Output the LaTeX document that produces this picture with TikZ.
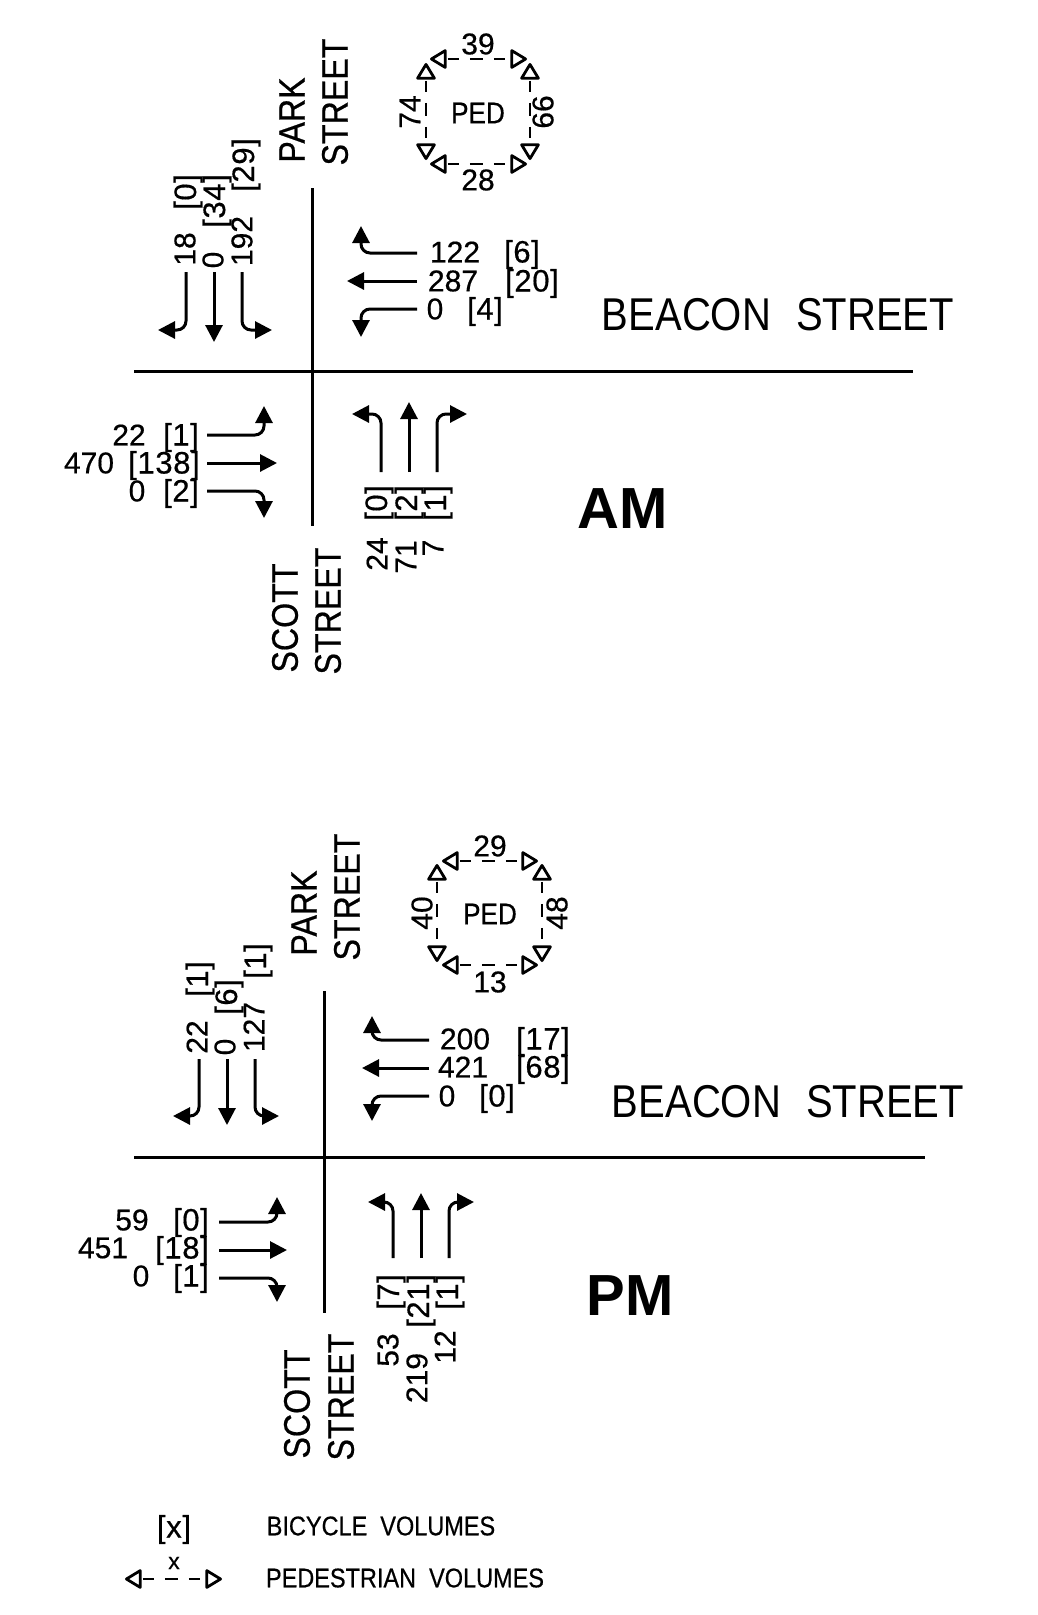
\documentclass[tikz,border=0pt]{standalone}
\usepackage{fontspec}
\setmainfont{Liberation Sans}
\newfontfamily\numfont[FakeBold=0.5]{Liberation Sans}
\newfontfamily\bracketfont[FakeBold=0.5,LetterSpace=2]{Liberation Sans}
\newfontfamily\cadfont[FakeStretch=0.87]{Liberation Sans}
\newfontfamily\cadboldfont[FakeStretch=0.87,FakeBold=0.5]{Liberation Sans}
\usetikzlibrary{arrows.meta}
\tikzset{
    countlabel/.style={inner sep=0pt, font=\fontsize{30}{30}\selectfont\numfont},
    vcountlabel/.style={countlabel, rotate=90},
    bracketlabel/.style={inner sep=0pt, font=\fontsize{31}{31}\selectfont\bracketfont, yshift=-2.5pt},
    vbracketlabel/.style={inner sep=0pt, font=\fontsize{31}{31}\selectfont\bracketfont, rotate=90, yshift=-3pt},
    streetlabel/.style={inner sep=0pt, font=\fontsize{46}{46}\selectfont\cadfont},
    vstreetlabel/.style={inner sep=0pt, font=\fontsize{37}{37}\selectfont\cadboldfont, rotate=90},
    pedlabel/.style={inner sep=0pt, font=\fontsize{30}{30}\selectfont\cadboldfont},
    legendlabel/.style={inner sep=0pt, font=\fontsize{27}{27}\selectfont\cadboldfont},
    peaklabel/.style={inner sep=0pt, font=\fontsize{58}{58}\selectfont\bfseries},
    roadline/.style={line width=3pt},
    flow/.style={line width=3pt, rounded corners=9pt, -{Triangle[length=17pt,width=17pt]}},
    pedflow/.style={line width=2.8pt, dash pattern=on 0pt off 2pt on 11pt off 11pt on 13pt off 11pt on 11pt off 50pt,
        {Triangle[open,round,length=18pt,width=21pt]}-{Triangle[open,round,length=18pt,width=21pt]}}
}
\begin{document}
\begin{tikzpicture}[x=1pt, y=-1pt]
    \useasboundingbox (0,0) rectangle (1038,1615);

    % AM roads
    \coordinate (amwest) at (134, 371);
    \coordinate (ameast) at (913, 371);
    \coordinate (amnorth) at (312, 188);
    \coordinate (amsouth) at (312, 526);
    \draw[roadline] (amwest) -- (ameast);
    \draw[roadline] (amnorth) -- (amsouth);
    \node[vstreetlabel] (ampark) at (292, 120) {PARK};
    \node[vstreetlabel] (amparkst) at (335, 102) {STREET};
    \node[vstreetlabel] (amscott) at (285, 618) {SCOTT};
    \node[vstreetlabel] (amscottst) at (328, 611) {STREET};
    \node[streetlabel] (ambeacon) at (778, 315) {BEACON\ \ \kern3pt STREET};
    \node[peaklabel] (amtitle) at (623, 509) {AM};

    % AM pedestrians
    \node[pedlabel] (amped) at (478, 113) {PED};
    \coordinate (amnw) at (430, 59);
    \coordinate (amne) at (527, 59);
    \coordinate (amsw) at (430, 164);
    \coordinate (amse) at (527, 164);
    \coordinate (amwn) at (426, 63);
    \coordinate (amws) at (426, 160);
    \coordinate (amen) at (530, 63);
    \coordinate (ames) at (530, 160);
    \draw[pedflow] (amnw) -- (amne);
    \draw[pedflow] (amsw) -- (amse);
    \draw[pedflow] (amwn) -- (amws);
    \draw[pedflow] (amen) -- (ames);
    \node[countlabel] (ampedn) at (478, 44) {39};
    \node[countlabel] (ampeds) at (478, 180) {28};
    \node[vcountlabel] (ampedw) at (410, 112) {74};
    \node[vcountlabel] (ampede) at (543, 112) {66};

    % AM westbound
    \node[countlabel] (amwbr) at (455, 252) {122};
    \node[bracketlabel] (amwbrb) at (522, 252) {[6]};
    \node[countlabel] (amwbt) at (453, 281) {287};
    \node[bracketlabel] (amwbtb) at (532, 281) {[20]};
    \node[countlabel] (amwbl) at (435, 309) {0};
    \node[bracketlabel] (amwblb) at (485, 309) {[4]};
    \coordinate (amwbra) at (417, 253);
    \coordinate (amwbrz) at (361, 226);
    \coordinate (amwbta) at (417, 281);
    \coordinate (amwbtz) at (347, 281);
    \coordinate (amwbla) at (417, 309);
    \coordinate (amwblz) at (361, 337);
    \draw[flow] (amwbra) -| (amwbrz);
    \draw[flow] (amwbta) -- (amwbtz);
    \draw[flow] (amwbla) -| (amwblz);

    % AM southbound
    \node[vcountlabel] (amsbr) at (185, 249) {18};
    \node[vbracketlabel] (amsbrb) at (185, 192) {[0]};
    \node[vcountlabel] (amsbt) at (213, 260) {0};
    \node[vbracketlabel] (amsbtb) at (214, 201) {[34]};
    \node[vcountlabel] (amsbl) at (242, 241) {192};
    \node[vbracketlabel] (amsblb) at (243, 165) {[29]};
    \coordinate (amsbra) at (186, 272);
    \coordinate (amsbrz) at (158, 330);
    \coordinate (amsbta) at (214, 272);
    \coordinate (amsbtz) at (214, 342);
    \coordinate (amsbla) at (242, 272);
    \coordinate (amsblz) at (272, 330);
    \draw[flow] (amsbra) |- (amsbrz);
    \draw[flow] (amsbta) -- (amsbtz);
    \draw[flow] (amsbla) |- (amsblz);

    % AM eastbound
    \node[countlabel] (amebl) at (129, 435) {22};
    \node[bracketlabel] (ameblb) at (181, 435) {[1]};
    \node[countlabel] (amebt) at (89, 463) {470};
    \node[bracketlabel] (amebtb) at (164, 463) {[138]};
    \node[countlabel] (amebr) at (137, 491) {0};
    \node[bracketlabel] (amebrb) at (181, 491) {[2]};
    \coordinate (amebla) at (207, 435);
    \coordinate (ameblz) at (264, 406);
    \coordinate (amebta) at (207, 463);
    \coordinate (amebtz) at (277, 463);
    \coordinate (amebra) at (207, 491);
    \coordinate (amebrz) at (264, 518);
    \draw[flow] (amebla) -| (ameblz);
    \draw[flow] (amebta) -- (amebtz);
    \draw[flow] (amebra) -| (amebrz);

    % AM northbound
    \node[vcountlabel] (amnbl) at (377, 554) {24};
    \node[vbracketlabel] (amnblb) at (376, 503) {[0]};
    \node[vcountlabel] (amnbt) at (406, 557) {71};
    \node[vbracketlabel] (amnbtb) at (406, 503) {[2]};
    \node[vcountlabel] (amnbr) at (433, 548) {7};
    \node[vbracketlabel] (amnbrb) at (435, 503) {[1]};
    \coordinate (amnbla) at (381, 472);
    \coordinate (amnblz) at (352, 414);
    \coordinate (amnbta) at (409, 472);
    \coordinate (amnbtz) at (409, 402);
    \coordinate (amnbra) at (437, 472);
    \coordinate (amnbrz) at (467, 414);
    \draw[flow] (amnbla) |- (amnblz);
    \draw[flow] (amnbta) -- (amnbtz);
    \draw[flow] (amnbra) |- (amnbrz);

    % PM roads
    \coordinate (pmwest) at (134, 1157);
    \coordinate (pmeast) at (925, 1157);
    \coordinate (pmnorth) at (324, 991);
    \coordinate (pmsouth) at (324, 1313);
    \draw[roadline] (pmwest) -- (pmeast);
    \draw[roadline] (pmnorth) -- (pmsouth);
    \node[vstreetlabel] (pmpark) at (304, 913) {PARK};
    \node[vstreetlabel] (pmparkst) at (347, 897) {STREET};
    \node[vstreetlabel] (pmscott) at (297, 1404) {SCOTT};
    \node[vstreetlabel] (pmscottst) at (341, 1397) {STREET};
    \node[streetlabel] (pmbeacon) at (788, 1102) {BEACON\ \ \kern3pt STREET};
    \node[peaklabel] (pmtitle) at (630, 1296) {PM};

    % PM pedestrians
    \node[pedlabel] (pmped) at (490, 914) {PED};
    \coordinate (pmnw) at (442, 861);
    \coordinate (pmne) at (538, 861);
    \coordinate (pmsw) at (442, 965);
    \coordinate (pmse) at (538, 965);
    \coordinate (pmwn) at (437, 864);
    \coordinate (pmws) at (437, 962);
    \coordinate (pmen) at (542, 864);
    \coordinate (pmes) at (542, 962);
    \draw[pedflow] (pmnw) -- (pmne);
    \draw[pedflow] (pmsw) -- (pmse);
    \draw[pedflow] (pmwn) -- (pmws);
    \draw[pedflow] (pmen) -- (pmes);
    \node[countlabel] (pmpedn) at (490, 846) {29};
    \node[countlabel] (pmpeds) at (490, 982) {13};
    \node[vcountlabel] (pmpedw) at (422, 913) {40};
    \node[vcountlabel] (pmpede) at (557, 913) {48};

    % PM westbound
    \node[countlabel] (pmwbr) at (465, 1039) {200};
    \node[bracketlabel] (pmwbrb) at (543, 1039) {[17]};
    \node[countlabel] (pmwbt) at (463, 1067) {421};
    \node[bracketlabel] (pmwbtb) at (543, 1067) {[68]};
    \node[countlabel] (pmwbl) at (447, 1096) {0};
    \node[bracketlabel] (pmwblb) at (497, 1096) {[0]};
    \coordinate (pmwbra) at (429, 1040);
    \coordinate (pmwbrz) at (372, 1016);
    \coordinate (pmwbta) at (429, 1068);
    \coordinate (pmwbtz) at (362, 1068);
    \coordinate (pmwbla) at (429, 1096);
    \coordinate (pmwblz) at (372, 1121);
    \draw[flow] (pmwbra) -| (pmwbrz);
    \draw[flow] (pmwbta) -- (pmwbtz);
    \draw[flow] (pmwbla) -| (pmwblz);

    % PM southbound
    \node[vcountlabel] (pmsbr) at (197, 1037) {22};
    \node[vbracketlabel] (pmsbrb) at (197, 979) {[1]};
    \node[vcountlabel] (pmsbt) at (225, 1047) {0};
    \node[vbracketlabel] (pmsbtb) at (226, 997) {[6]};
    \node[vcountlabel] (pmsbl) at (254, 1027) {127};
    \node[vbracketlabel] (pmsblb) at (255, 961) {[1]};
    \coordinate (pmsbra) at (199, 1059);
    \coordinate (pmsbrz) at (173, 1116);
    \coordinate (pmsbta) at (227, 1059);
    \coordinate (pmsbtz) at (227, 1125);
    \coordinate (pmsbla) at (255, 1059);
    \coordinate (pmsblz) at (279, 1116);
    \draw[flow] (pmsbra) |- (pmsbrz);
    \draw[flow] (pmsbta) -- (pmsbtz);
    \draw[flow] (pmsbla) |- (pmsblz);

    % PM eastbound
    \node[countlabel] (pmebl) at (132, 1220) {59};
    \node[bracketlabel] (pmeblb) at (191, 1220) {[0]};
    \node[countlabel] (pmebt) at (103, 1248) {451};
    \node[bracketlabel] (pmebtb) at (182, 1248) {[18]};
    \node[countlabel] (pmebr) at (141, 1276) {0};
    \node[bracketlabel] (pmebrb) at (191, 1276) {[1]};
    \coordinate (pmebla) at (219, 1222);
    \coordinate (pmeblz) at (277, 1197);
    \coordinate (pmebta) at (219, 1250);
    \coordinate (pmebtz) at (287, 1250);
    \coordinate (pmebra) at (219, 1278);
    \coordinate (pmebrz) at (277, 1302);
    \draw[flow] (pmebla) -| (pmeblz);
    \draw[flow] (pmebta) -- (pmebtz);
    \draw[flow] (pmebra) -| (pmebrz);

    % PM northbound
    \node[vcountlabel] (pmnbl) at (388, 1350) {53};
    \node[vbracketlabel] (pmnblb) at (388, 1292) {[7]};
    \node[vcountlabel] (pmnbt) at (417, 1378) {219};
    \node[vbracketlabel] (pmnbtb) at (418, 1301) {[21]};
    \node[vcountlabel] (pmnbr) at (445, 1347) {12};
    \node[vbracketlabel] (pmnbrb) at (447, 1292) {[1]};
    \coordinate (pmnbla) at (393, 1258);
    \coordinate (pmnblz) at (368, 1202);
    \coordinate (pmnbta) at (421, 1258);
    \coordinate (pmnbtz) at (421, 1193);
    \coordinate (pmnbra) at (449, 1258);
    \coordinate (pmnbrz) at (474, 1202);
    \draw[flow] (pmnbla) |- (pmnblz);
    \draw[flow] (pmnbta) -- (pmnbtz);
    \draw[flow] (pmnbra) |- (pmnbrz);

    % Legend
    \node[bracketlabel] (keybike) at (174, 1527) {[x]};
    \node[legendlabel] (keybiketext) at (381, 1526) {BICYCLE\ \ VOLUMES};
    \node[countlabel, font=\fontsize{23}{23}\selectfont\numfont] (keyped) at (174, 1563) {x};
    \node[legendlabel] (keypedtext) at (405, 1578) {PEDESTRIAN\ \ VOLUMES};
    \coordinate (keypeda) at (125, 1579);
    \coordinate (keypedz) at (222, 1579);
    \draw[pedflow] (keypeda) -- (keypedz);
\end{tikzpicture}
\end{document}
